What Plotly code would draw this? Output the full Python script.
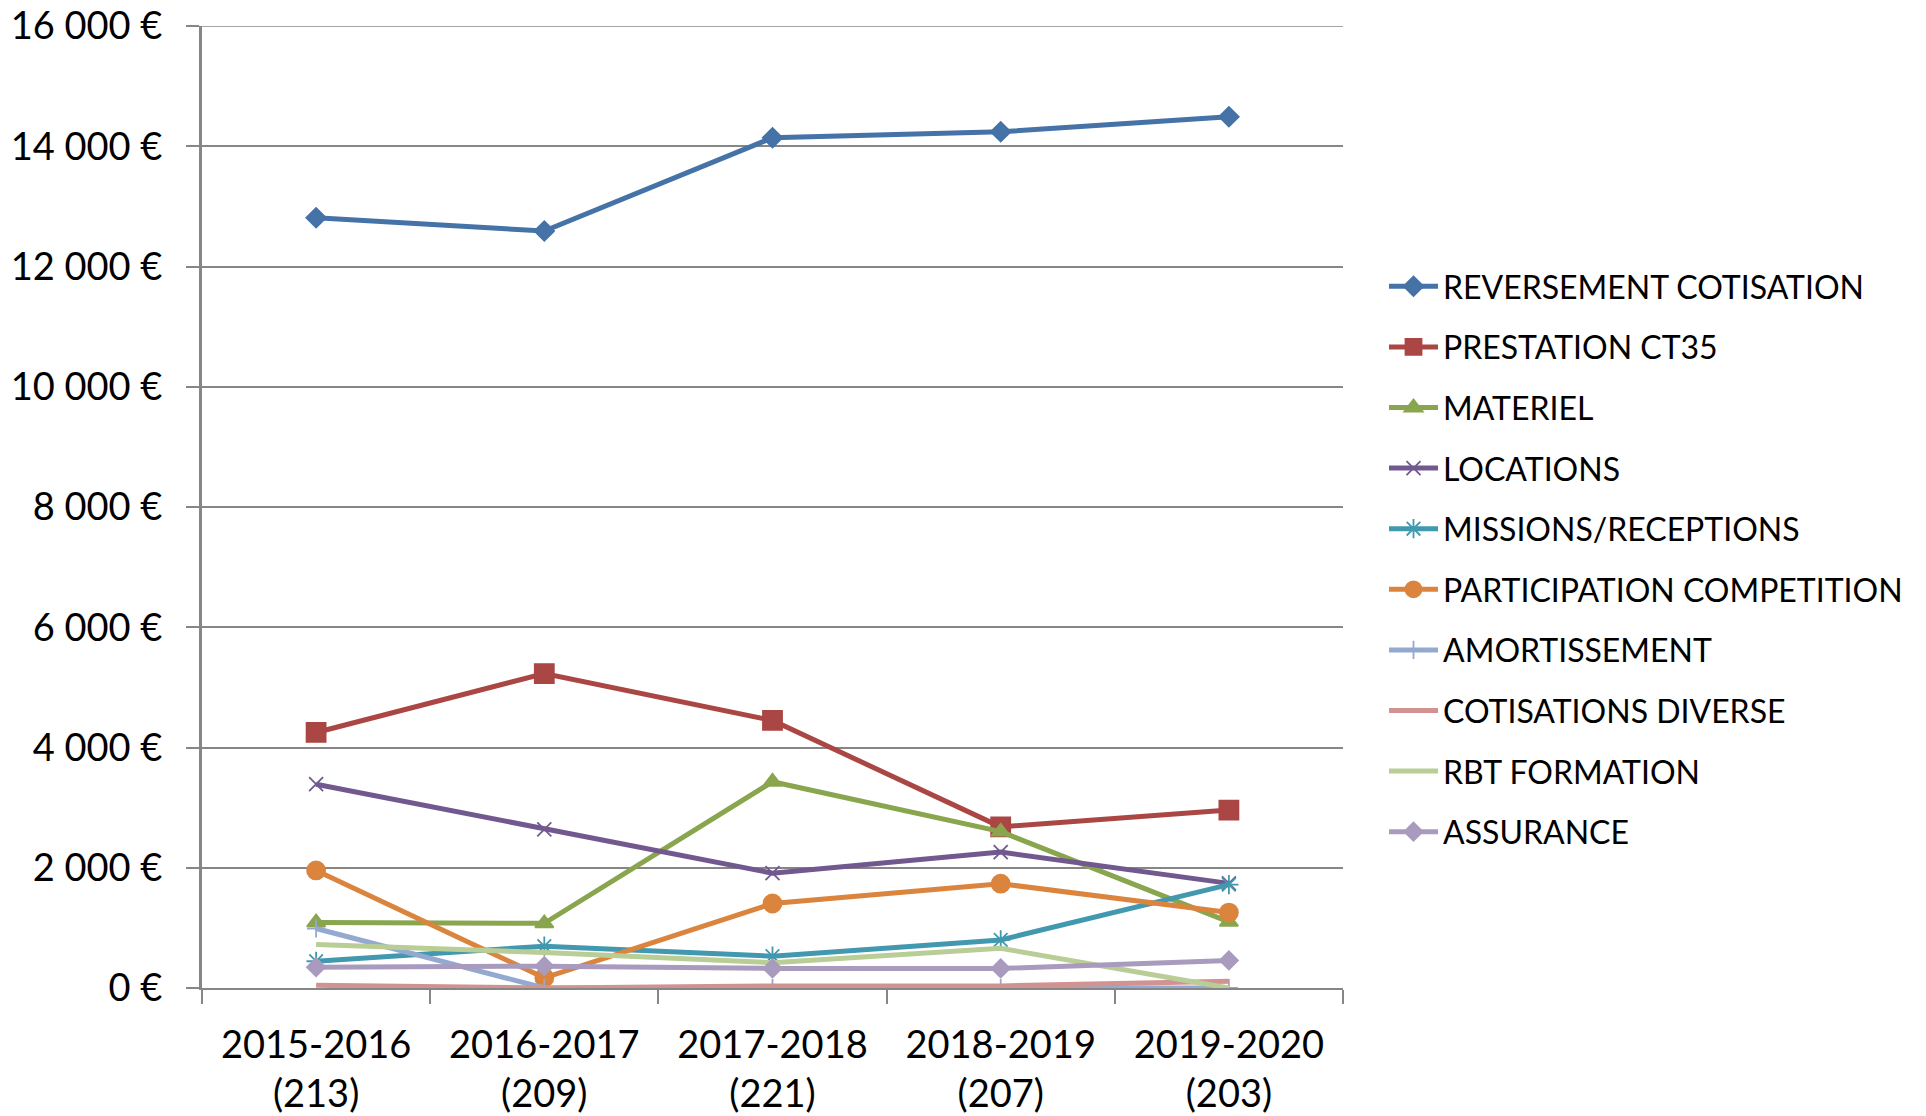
import plotly.graph_objects as go

categories = ["2015-2016<br>(213)", "2016-2017<br>(209)", "2017-2018<br>(221)",
              "2018-2019<br>(207)", "2019-2020<br>(203)"]

reversement = [12810, 12590, 14140, 14240, 14490]
prestation = [4250, 5230, 4450, 2680, 2960]
materiel = [1090, 1075, 3430, 2600, 1100]
locations = [3390, 2640, 1910, 2260, 1740]
missions = [445, 695, 530, 800, 1720]
participation = [1955, 170, 1405, 1735, 1255]
amortissement = [990, 0, 0, 0, 0]
cotisations = [45, 0, 35, 35, 112]
rbt_formation = [725, 590, 420, 660, 0]
assurance = [346, 363, 325, 325, 458]

series_names = ["REVERSEMENT COTISATION", "PRESTATION CT35", "MATERIEL", "LOCATIONS",
                "MISSIONS/RECEPTIONS", "PARTICIPATION COMPETITION", "AMORTISSEMENT",
                "COTISATIONS DIVERSE", "RBT FORMATION", "ASSURANCE"]
series_values = [reversement, prestation, materiel, locations, missions,
                 participation, amortissement, cotisations, rbt_formation, assurance]

y_tickvals = [0, 2000, 4000, 6000, 8000, 10000, 12000, 14000, 16000]
y_ticktext = ["0 €", "2 000 €", "4 000 €", "6 000 €", "8 000 €", "10 000 €",
              "12 000 €", "14 000 €", "16 000 €"]

colors = ["#4572A7", "#AA4643", "#89A54E", "#71588F", "#4198AF",
          "#DB843D", "#93A9CF", "#D19392", "#B9CD96", "#A99BBD"]
symbols = ["diamond", "square", "triangle-up", "x-thin-open", "asterisk-open",
           "circle", "cross-thin-open", None, None, "diamond"]
msizes = [15, 19, 16, 14, 16, 18, 13, 0, 0, 14]

FONT = "Lato"
fig = go.Figure()
for name, vals, col, sym, ms in zip(series_names, series_values, colors, symbols, msizes):
    if sym is None:
        mode = "lines"
        marker = None
    else:
        mode = "lines+markers"
        marker = dict(symbol=sym, size=ms, color=col, line=dict(color=col, width=1.8))
    fig.add_trace(go.Scatter(
        x=categories, y=vals, name=name, mode=mode,
        line=dict(color=col, width=5), marker=marker, legendgroup=name,
    ))

fig.add_shape(type="line", xref="paper", yref="y", x0=-13 / 1142, x1=1, y0=16000, y1=16000,
              line=dict(color="#868686", width=1.5), layer="below")

fig.update_layout(
    width=1926, height=1116,
    margin=dict(l=202, r=583, t=26, b=128, autoexpand=False),
    paper_bgcolor="white", plot_bgcolor="white",
    font=dict(family=FONT, color="black"),
    showlegend=True,
    legend=dict(
        xref="container", yref="container",
        x=1384 / 1926, y=1 - 259 / 1116, xanchor="left", yanchor="top",
        font=dict(size=32, family=FONT, color="black"),
        tracegroupgap=16, itemwidth=49, maxheight=1,
        bgcolor="rgba(0,0,0,0)",
    ),
    xaxis=dict(
        type="category", range=[-0.5, 4.5], automargin=False,
        showgrid=False, showline=True, linecolor="#868686", linewidth=2,
        ticks="outside", tickson="boundaries", ticklen=14, tickcolor="#868686", tickwidth=1.5,
        tickfont=dict(size=38, family=FONT, color="black"),
        ticklabelstandoff=22, ticklabeloverflow="allow",
        zeroline=False,
    ),
    yaxis=dict(
        range=[0, 16000], tickvals=y_tickvals, ticktext=y_ticktext, automargin=False,
        showgrid=True, gridcolor="#868686", gridwidth=1.5,
        showline=True, linecolor="#868686", linewidth=3,
        ticks="outside", ticklen=13, tickcolor="#868686", tickwidth=1.5,
        tickfont=dict(size=38, family=FONT, color="black"),
        ticklabelstandoff=16, ticklabeloverflow="allow",
        zeroline=False,
    ),
)

fig.write_html("out.html", config={"displayModeBar": False},
               post_script="document.body.style.margin='0px';")
